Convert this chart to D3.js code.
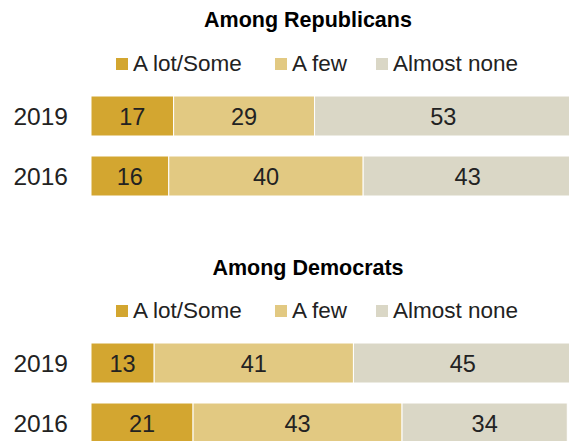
<!DOCTYPE html>
<html>
<head>
<meta charset="utf-8">
<script src="https://cdn.jsdelivr.net/npm/d3@7"></script>
<style>
  body { margin: 0; background: #fff; }
  svg { display: block; }
</style>
</head>
<body>
<svg id="chart" width="569" height="441"></svg>
<script>
// ---- Data ----
const categories = ["A lot/Some", "A few", "Almost none"];
const years = ["2019", "2016"];
const panelTitles = ["Among Republicans", "Among Democrats"];
const repLotSome = [17, 16];
const repFew = [29, 40];
const repAlmostNone = [53, 43];
const demLotSome = [13, 21];
const demFew = [41, 43];
const demAlmostNone = [45, 34];
const colors = ["#D3A630", "#E2C982", "#DAD7C6"];

const panels = [
  [repLotSome, repFew, repAlmostNone],
  [demLotSome, demFew, demAlmostNone]
];

const svg = d3.select("#chart");
const font = "'Liberation Sans', Arial, sans-serif";

const x = d3.scaleLinear().domain([0, 100]).range([91, 577]);
const color = d3.scaleOrdinal().domain(categories).range(colors);

const panelOffsets = [0, 247];
const legendX = [116, 275, 376];

panels.forEach((series, p) => {
  const off = panelOffsets[p];
  const g = svg.append("g");

  // title
  g.append("text")
    .attr("x", 308).attr("y", 27 + off + (p ? 1 : 0))
    .attr("text-anchor", "middle")
    .attr("font-family", font).attr("font-weight", "bold")
    .attr("font-size", 21.5).attr("fill", "#000")
    .text(panelTitles[p]);

  // legend
  const lg = g.selectAll("g.leg").data(categories).enter().append("g")
    .attr("transform", (d, i) => `translate(${legendX[i]},${off})`);
  lg.append("rect").attr("x", 0).attr("y", 58).attr("width", 12).attr("height", 12)
    .attr("fill", d => color(d));
  lg.append("text").attr("x", 17).attr("y", 71)
    .attr("font-family", font).attr("font-size", 22.5).attr("fill", "#222")
    .text(d => d);

  // rows
  const rows = years.map((yr, i) => {
    const o = { year: yr };
    categories.forEach((c, k) => o[c] = series[k][i]);
    return o;
  });
  const stack = d3.stack().keys(categories)(rows);
  const y = d3.scaleBand().domain(years).range([96 + off, 196 + off]).paddingInner(1/3).paddingOuter(0);

  // y labels
  g.selectAll("text.yr").data(years).enter().append("text")
    .attr("x", 68).attr("y", d => y(d) + y.bandwidth() / 2 + 8.5)
    .attr("text-anchor", "end")
    .attr("font-family", font).attr("font-size", 24.5).attr("fill", "#222")
    .text(d => d);

  stack.forEach(layer => {
    const key = layer.key;
    const lay = g.append("g");
    lay.selectAll("rect").data(layer).enter().append("rect")
      .attr("x", d => x(d[0]))
      .attr("y", d => y(d.data.year))
      .attr("width", d => x(d[1]) - x(d[0]))
      .attr("height", y.bandwidth())
      .attr("fill", color(key))
      .attr("stroke", "#fff").attr("stroke-width", 1);
    lay.selectAll("text").data(layer).enter().append("text")
      .attr("x", d => (x(d[0]) + x(d[1])) / 2)
      .attr("y", d => y(d.data.year) + y.bandwidth() / 2 + 8.5)
      .attr("text-anchor", "middle")
      .attr("font-family", font).attr("font-size", 23.5).attr("fill", "#222")
      .text(d => d.data[key]);
  });
});
</script>
</body>
</html>
